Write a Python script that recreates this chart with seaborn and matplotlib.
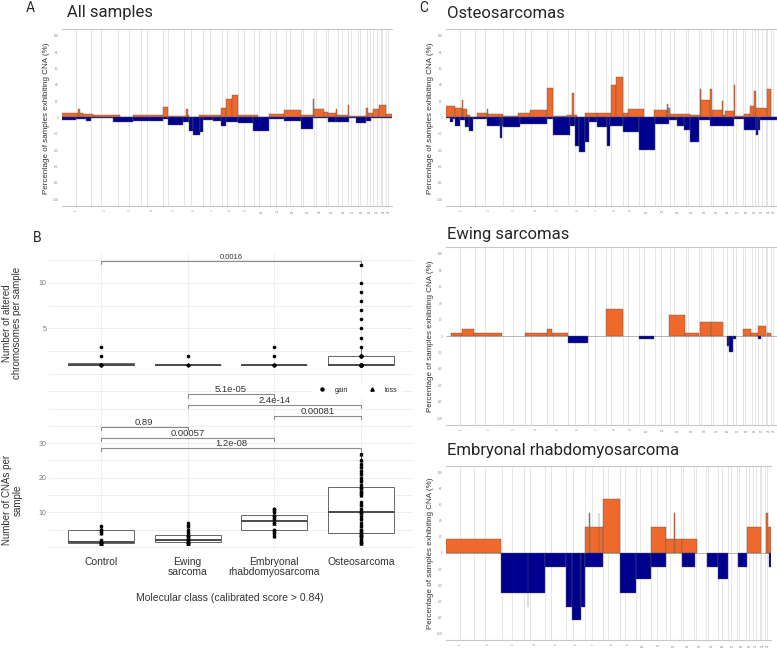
import numpy as np
import pandas as pd
import matplotlib
matplotlib.use("Agg")
import matplotlib.pyplot as plt
from matplotlib.lines import Line2D
import seaborn as sns

# genome layout (hg19, Mb)
chrom_names = [str(i) for i in range(1, 23)]
chrom_len = [249, 243, 198, 191, 181, 171, 159, 146, 141, 136, 135,
             134, 115, 107, 103, 90, 81, 78, 59, 63, 48, 51]
centromere = [125, 93, 91, 50, 48, 61, 60, 46, 49, 40, 54,
              36, 18, 18, 19, 37, 24, 17, 27, 28, 13, 15]

# CNA frequency segments: (start Mb, end Mb, % of samples) on concatenated genome
all_gain = [(0, 139, 6), (139, 154, 10), (154, 183, 5), (183, 270, 4), (270, 502, 3),
            (502, 619, 0.5), (619, 880, 2.5), (880, 923, 13), (923, 1083, 2), (1083, 1098, 10),
            (1098, 1112, 3), (1112, 1199, 1), (1199, 1388, 3), (1388, 1432, 12), (1432, 1480, 23),
            (1480, 1533, 27), (1533, 1708, 3), (1708, 1809, 1), (1809, 1940, 4), (1940, 2085, 9),
            (2085, 2187, 3), (2187, 2201, 23), (2201, 2288, 11), (2288, 2317, 7), (2317, 2390, 5),
            (2390, 2398, 10), (2398, 2492, 3), (2492, 2500, 15), (2500, 2651, 2), (2651, 2666, 12),
            (2666, 2709, 6), (2709, 2767, 10), (2767, 2826, 15), (2826, 2879, 4)]
all_loss = [(0, 125, 3), (125, 212, 2), (212, 256, 4), (256, 444, 1), (444, 619, 6),
            (619, 880, 4), (880, 923, 2), (923, 1054, 9), (1054, 1112, 6), (1112, 1140, 17),
            (1140, 1200, 22), (1200, 1228, 18), (1228, 1315, 3), (1315, 1388, 4), (1388, 1432, 11),
            (1432, 1533, 5), (1533, 1664, 7), (1664, 1809, 17), (1809, 1940, 2), (1940, 2085, 4),
            (2085, 2187, 14), (2187, 2317, 1), (2317, 2390, 5), (2390, 2506, 6), (2506, 2564, 1),
            (2564, 2651, 7), (2651, 2695, 4), (2695, 2879, 1)]

osteo_gain = [(0, 78, 14), (78, 136, 12), (136, 145, 22), (145, 180, 10), (180, 209, 3),
              (209, 267, 0.5), (267, 354, 5), (354, 362, 10), (362, 499, 4), (499, 630, 2),
              (630, 732, 6), (732, 877, 9), (877, 935, 36), (935, 1051, 2), (1051, 1095, 3),
              (1095, 1115, 30), (1115, 1138, 3), (1138, 1211, 1), (1211, 1313, 6), (1313, 1437, 5),
              (1437, 1480, 40), (1480, 1539, 50), (1539, 1580, 6), (1580, 1719, 10), (1719, 1806, 0.5),
              (1806, 1922, 9), (1922, 1930, 16), (1930, 1951, 12), (1951, 2126, 4), (2126, 2207, 3),
              (2207, 2215, 35), (2215, 2300, 22), (2300, 2314, 35), (2314, 2402, 9), (2402, 2410, 20),
              (2410, 2431, 3), (2431, 2503, 8), (2503, 2512, 40), (2512, 2590, 2), (2590, 2648, 4),
              (2648, 2683, 14), (2683, 2692, 32), (2692, 2788, 12), (2788, 2823, 35), (2823, 2879, 1)]
osteo_loss = [(0, 35, 1), (35, 64, 5), (64, 78, 2), (78, 122, 10), (122, 166, 3),
              (166, 200, 12), (200, 238, 17), (238, 354, 2), (354, 470, 10), (470, 485, 25),
              (485, 499, 10), (499, 645, 12), (645, 877, 8), (877, 935, 2), (935, 1080, 22),
              (1080, 1124, 10), (1124, 1160, 35), (1160, 1210, 42), (1210, 1240, 30), (1240, 1313, 5),
              (1313, 1400, 12), (1400, 1429, 35), (1429, 1539, 10), (1539, 1676, 18), (1676, 1821, 40),
              (1821, 1937, 8), (1937, 2010, 3), (2010, 2068, 10), (2068, 2126, 15), (2126, 2198, 30),
              (2198, 2300, 3), (2300, 2503, 10), (2503, 2590, 2), (2590, 2700, 15), (2700, 2715, 22),
              (2715, 2735, 15), (2735, 2879, 3)]

ewing_gain = [(44, 136, 4), (136, 247, 8), (247, 491, 4), (688, 877, 4), (877, 926, 8),
              (926, 1060, 4), (1394, 1536, 33), (1937, 2082, 25), (2082, 2198, 4), (2207, 2306, 17),
              (2306, 2410, 17), (2582, 2657, 8), (2657, 2715, 4), (2715, 2779, 12), (2788, 2829, 4)]
ewing_loss = [(1060, 1231, 8), (1679, 1812, 4), (2445, 2460, 12), (2460, 2495, 20),
              (2495, 2521, 4), (2718, 2741, 4)]

erms_gain = [(0, 489, 17), (1230, 1390, 33), (1268, 1276, 50), (1351, 1359, 50), (1390, 1538, 67),
             (1814, 1953, 33), (1953, 2090, 17), (2017, 2025, 50), (2090, 2223, 17), (2665, 2786, 33),
             (2837, 2851, 50), (2851, 2879, 33)]
erms_loss = [(489, 880, 50), (722, 730, 67), (880, 1064, 17), (1064, 1117, 67), (1117, 1200, 83),
             (1200, 1230, 67), (1230, 1390, 17), (1538, 1681, 50), (1681, 1814, 33), (1814, 1953, 17),
             (2090, 2205, 17), (2312, 2413, 17), (2413, 2502, 33), (2585, 2665, 17), (2857, 2879, 17)]

# panel B
classes = ["Control", "Ewing sarcoma", "Embryonal rhabdomyosarcoma", "Osteosarcoma"]
class_labels = ["Control", "Ewing\nsarcoma", "Embryonal\nrhabdomyosarcoma", "Osteosarcoma"]

chrom_control = [1, 1, 1, 1, 1, 1, 2, 3]
chrom_ewing = [1, 1, 1, 1, 2]
chrom_erms = [1, 1, 1, 1, 1, 1, 1, 2, 3]
chrom_osteo = [1, 1, 1, 1, 1, 1, 1, 1, 1, 1, 1, 1, 1, 1, 1, 1, 1, 1, 1, 1,
               2, 2, 2, 2, 2, 2, 2, 2, 2, 2, 3, 4, 5, 6, 7, 8, 9, 10, 12]

cna_control = [1, 1, 1, 1, 1, 2, 4, 5, 5, 6]
cna_ewing = [1, 1, 1, 1, 2, 2, 2, 2, 3, 3, 3, 4, 5, 6, 7]
cna_erms = [3, 4, 5, 5, 7, 7, 8, 9, 9, 10, 11, 11]
cna_osteo = [1, 1, 2, 2, 3, 3, 3, 4, 4, 4, 5, 5, 6, 7, 8, 9, 10, 10, 10, 11, 12, 13,
             15, 16, 16, 17, 17, 18, 19, 20, 21, 22, 23, 24, 25, 27]

chrom_pairs = [(0, 3)]
chrom_pvals = ["0.0016"]
chrom_bracket_y = [12.4]

cna_pairs = [(1, 2), (1, 3), (2, 3), (0, 1), (0, 2), (0, 3)]
cna_pvals = ["5.1e-05", "2.4e-14", "0.00081", "0.89", "0.00057", "1.2e-08"]
cna_bracket_y = [44.1, 41.0, 37.9, 34.8, 31.5, 28.5]

ORANGE = "#F0692C"
NAVY = "#00008F"

sns.set_theme(style="white")
plt.rcParams['font.family'] = ['Liberation Sans', 'DejaVu Sans']

W, H = 777, 650
fig = plt.figure(figsize=(W / 100, H / 100), dpi=100)


def px_axes(left, top, right, bottom):
    return fig.add_axes([left / W, 1 - bottom / H, (right - left) / W, (bottom - top) / H])


def ftext(x, y, s, **kw):
    fig.text(x / W, 1 - y / H, s, **kw)


cum = np.concatenate([[0], np.cumsum(chrom_len)])
mids = cum[:-1] + np.array(chrom_len) / 2
cen_abs = cum[:-1] + np.array(centromere)


def cna_panel(ax, gains, losses):
    for x in list(cum[1:-1]) + list(cen_abs):
        ax.axvline(x, color="#E2E2E2", lw=0.6, zorder=0)
    ax.axhline(0, color="#9A9A9A", lw=0.5, zorder=1)
    for seg, sign, col in ((gains, 1, ORANGE), (losses, -1, NAVY)):
        starts = [s for s, e, v in seg]
        widths = [e - s for s, e, v in seg]
        heights = [sign * v for s, e, v in seg]
        ax.bar(starts, heights, width=widths, align="edge", color=col,
               edgecolor="#5C5C5C", linewidth=0.3, zorder=2)
    ax.set_xlim(0, cum[-1])
    ax.set_ylim(-108.5, 108.5)
    ax.set_yticks(range(-100, 101, 20))
    ax.set_yticklabels([str(v) for v in range(-100, 101, 20)], fontsize=2.2, color="#888888")
    ax.set_xticks(mids)
    ax.set_xticklabels(chrom_names, fontsize=2.2, color="#888888", rotation=90)
    ax.tick_params(length=1.5, width=0.4, color="#999999", pad=1)
    for side in ("left", "right"):
        ax.spines[side].set_visible(False)
    for side in ("top", "bottom"):
        ax.spines[side].set_color("#C8C8C8")
        ax.spines[side].set_linewidth(0.8)
    ax.grid(False)


ylab = "Percentage of samples exhibiting CNA (%)"

axA = px_axes(62, 29, 392, 206)
cna_panel(axA, all_gain, all_loss)
ftext(47, 118, ylab, rotation=90, ha="center", va="center", fontsize=5.8, color="#333333")
ftext(26, 8, "A", fontsize=10, va="center", family="Roboto")
ftext(67, 13, "All samples", fontsize=12, va="center", family="Roboto")

axC1 = px_axes(446, 29, 777, 206)
cna_panel(axC1, osteo_gain, osteo_loss)
ftext(431, 118, ylab, rotation=90, ha="center", va="center", fontsize=5.8, color="#333333")
ftext(419, 8, "C", fontsize=10, va="center", family="Roboto")
ftext(447, 13, "Osteosarcomas", fontsize=12, va="center", family="Roboto")

axC2 = px_axes(446, 247, 777, 425)
cna_panel(axC2, ewing_gain, ewing_loss)
ftext(431, 336, ylab, rotation=90, ha="center", va="center", fontsize=5.8, color="#333333")
ftext(447, 234, "Ewing sarcomas", fontsize=12, va="center", family="Roboto")

axC3 = px_axes(446, 466, 771, 640)
cna_panel(axC3, erms_gain, erms_loss)
ftext(431, 553, ylab, rotation=90, ha="center", va="center", fontsize=5.8, color="#333333")
ftext(447, 451, "Embryonal rhabdomyosarcoma", fontsize=12, va="center", family="Roboto")

# ---- panel B ----
def long_df(groups):
    cls, vals = [], []
    for name, g in zip(classes, groups):
        cls += [name] * len(g)
        vals += g
    return pd.DataFrame({"cls": cls, "n": vals})


chrom_df = long_df([chrom_control, chrom_ewing, chrom_erms, chrom_osteo])
cna_df = long_df([cna_control, cna_ewing, cna_erms, cna_osteo])

box_kw = dict(order=classes, color="white", linecolor="#666666", linewidth=0.7,
              width=0.76, showfliers=False, showcaps=False,
              medianprops=dict(color="#4A4A4A", linewidth=1.4))


def style_b(ax, ymin, ymax, grid_y, label_y):
    for y in grid_y:
        ax.axhline(y, color="#EBEBEB", lw=0.6, zorder=0)
    for x in range(4):
        ax.axvline(x, color="#EBEBEB", lw=0.6, zorder=0)
    ax.set_xlim(-0.6, 3.6)
    ax.set_ylim(ymin, ymax)
    ax.set_yticks(label_y)
    ax.set_yticklabels([str(v) for v in label_y], fontsize=5, color="#777777")
    ax.tick_params(length=0, pad=2)
    ax.set_xlabel("")
    ax.set_ylabel("")
    for s in ax.spines.values():
        s.set_visible(False)
    ax.grid(False)
    ax.set_facecolor("none")


def brackets(ax, pairs, pvals, ys, drop, fs):
    for (a, b), p, y in zip(pairs, pvals, ys):
        ax.plot([a, a, b, b], [y - drop, y, y, y - drop], color="#8C8C8C", lw=0.8, zorder=3)
        ax.text((a + b) / 2, y, p, ha="center", va="bottom", fontsize=fs, color="#333333")


axB1 = px_axes(49, 253, 413, 370)
sns.boxplot(data=chrom_df, x="cls", y="n", ax=axB1, **box_kw)
sns.stripplot(data=chrom_df, x="cls", y="n", order=classes, jitter=False, color="black",
              size=2.6, marker="o", ax=axB1, zorder=4)
style_b(axB1, 0.45, 13.26, [2.5, 5, 7.5, 10, 12.5], [5, 10])
axB1.set_xticks(range(4))
axB1.set_xticklabels([])
brackets(axB1, chrom_pairs, chrom_pvals, chrom_bracket_y, 0.3, 5.5)

axB2 = px_axes(49, 371, 413, 551)
sns.boxplot(data=cna_df, x="cls", y="n", ax=axB2, **box_kw)
sns.stripplot(data=cna_df, x="cls", y="n", order=classes, jitter=False, color="black",
              size=2.6, marker="o", ax=axB2, zorder=4)
sns.stripplot(data=cna_df, x="cls", y="n", order=classes, jitter=False, color="black",
              size=2.8, marker="^", ax=axB2, zorder=4)
style_b(axB2, -1.2, 50.9, list(range(0, 51, 5)), [10, 20, 30])
axB2.set_xticks(range(4))
axB2.set_xticklabels(class_labels, fontsize=7.5, color="#333333", linespacing=1.1)
axB2.tick_params(axis="x", pad=4)
brackets(axB2, cna_pairs, cna_pvals, cna_bracket_y, 0.9, 6.8)

handles = [Line2D([], [], marker="o", ls="", color="black", markersize=2.2),
           Line2D([], [], marker="^", ls="", color="black", markersize=2.4)]
fig.legend(handles, ["gain", "loss"], loc="center", bbox_to_anchor=(356 / W, 1 - 390 / H),
           ncol=2, fontsize=5, frameon=True, facecolor="white", edgecolor="white",
           framealpha=1, handletextpad=0.8, columnspacing=2.5, borderpad=0.5)

ftext(33, 238, "B", fontsize=10, va="center", family="Roboto")
ftext(12, 323, "Number of altered\nchromosomes per sample", rotation=90, ha="center",
      va="center", fontsize=7, color="#333333", linespacing=1.1)
ftext(12, 500, "Number of CNAs per\nsample", rotation=90, ha="center",
      va="center", fontsize=7, color="#333333", linespacing=1.1)
ftext(230, 598, "Molecular class (calibrated score > 0.84)", ha="center", va="center",
      fontsize=7.5, color="#333333")

fig.savefig("out.png", dpi=100)
